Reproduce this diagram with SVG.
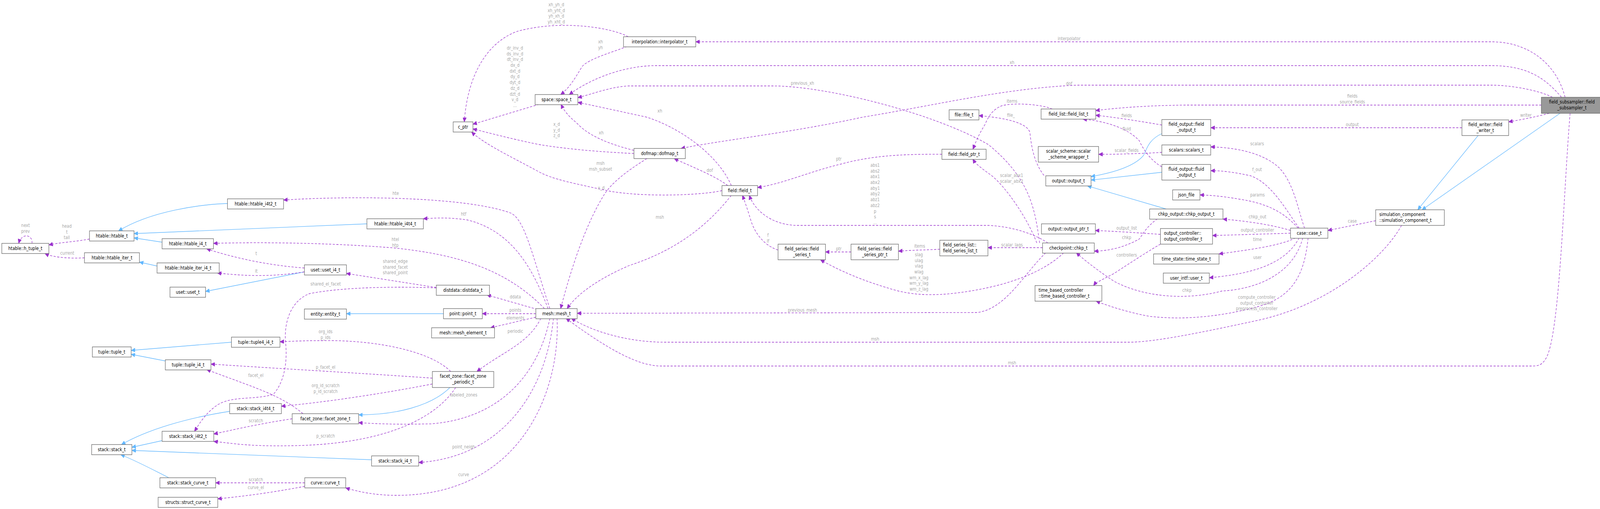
<svg xmlns="http://www.w3.org/2000/svg" width="4464" height="1303" viewBox="0 0 4464 1303">
<style>
.n rect{fill:#fff;stroke:#666;stroke-width:1.3}
.n text{font-family:"DejaVu Sans Condensed","Liberation Sans",sans-serif;font-size:12.5px;fill:#000;text-anchor:middle}
.n text.s{text-anchor:start}
#field_subsampler rect{fill:#999}
.l{font-family:"DejaVu Sans Condensed","Liberation Sans",sans-serif;font-size:12px;fill:#a8a8a8;text-anchor:middle}
.u{fill:none;stroke:#9A32CD;stroke-width:1.3;stroke-dasharray:6,4;marker-end:url(#pa)}
.i{fill:none;stroke:#63B8FF;stroke-width:1.3;marker-end:url(#ba)}
</style>
<defs>
<marker id="pa" markerUnits="userSpaceOnUse" markerWidth="12" markerHeight="10" refX="11" refY="5" orient="auto"><path d="M0,0 L11,5 L0,10 z" fill="#9A32CD" stroke="#9A32CD" stroke-dasharray="none"/></marker>
<marker id="ba" markerUnits="userSpaceOnUse" markerWidth="12" markerHeight="10" refX="11" refY="5" orient="auto"><path d="M0,0 L11,5 L0,10 z" fill="#63B8FF" stroke="#63B8FF"/></marker>
</defs>
<rect width="4464" height="1303" fill="#fff"/>
<g transform="scale(0.92,1)">
<g id="edges">
<path class="i" d="M633,521 C560,523 420,540 330,591"/>
<path class="i" d="M1021,573 L373,598"/>
<path class="i" d="M451,620 L373,609"/>
<path class="i" d="M437,681 L388,671"/>
<path class="i" d="M847,696 L572,746"/>
<path class="i" d="M644,876 L365,897"/>
<path class="i" d="M460,924 L365,907"/>
<path class="i" d="M639,1053 C520,1070 410,1100 338,1138"/>
<path class="i" d="M451,1128 L367,1145"/>
<path class="i" d="M1034,1177 L367,1153"/>
<path class="i" d="M470,1223 C420,1200 380,1180 336,1164"/>
<path class="i" d="M1234,803 L964,803"/>
<path class="i" d="M1252,992 C1200,1040 1100,1062 998,1062"/>
<path class="i" d="M3233,342 C3190,360 3190,390 3180,400 C3150,430 3080,445 3036,452"/>
<path class="i" d="M3233,441 L3036,461"/>
<path class="i" d="M3245,535 L3026,476"/>
<path class="i" d="M4113,347 L3945,537"/>
<path class="i" d="M4341,290 L3957,537"/>

<path class="u" d="M249,612 C200,620 170,620 136,627"/>
<path class="u" d="M89,623 C92,600 60,595 52,623"/>
<path class="u" d="M235,660 C200,662 150,660 125,649"/>
<path class="u" d="M847,686 C750,680 650,660 575,637"/>
<path class="u" d="M847,696 C750,710 680,706 605,699"/>
<path class="u" d="M1530,790 C1480,650 1460,560 1420,545 C1300,505 1000,500 789,512"/>
<path class="u" d="M1525,790 C1480,680 1420,590 1300,563 C1250,556 1210,558 1178,560"/>
<path class="u" d="M1515,790 C1400,680 1250,650 1100,635 C900,620 700,620 594,623"/>
<path class="u" d="M1214,736 L964,700"/>
<path class="u" d="M1214,737 C1100,733 950,735 860,752 C800,775 790,840 795,880 C800,930 790,980 760,1010 C700,1025 640,1012 600,1040 C570,1060 555,1085 541,1104"/>
<path class="u" d="M1495,792 L1355,755"/>
<path class="u" d="M1491,803 L1342,803"/>
<path class="u" d="M1491,812 L1365,839"/>
<path class="u" d="M1505,815 C1470,880 1400,900 1327,951"/>
<path class="u" d="M1254,951 C1200,900 1050,870 900,872 C840,872 800,874 779,875"/>
<path class="u" d="M1203,968 C1000,955 800,945 587,932"/>
<path class="u" d="M1203,983 C1050,1010 900,1030 783,1040"/>
<path class="u" d="M1268,992 C1220,1060 1100,1130 850,1140 C700,1145 650,1135 595,1130"/>
<path class="u" d="M843,1059 C780,1010 700,990 575,946"/>
<path class="u" d="M813,1072 C720,1085 650,1100 595,1111"/>
<path class="u" d="M1530,815 C1500,950 1400,1070 1200,1085 C1100,1087 1050,1085 998,1082"/>
<path class="u" d="M1540,815 C1520,1000 1400,1170 1165,1184"/>
<path class="u" d="M1550,815 C1560,1000 1450,1270 1100,1268 C1050,1268 1000,1260 962,1249"/>
<path class="u" d="M848,1236 L600,1236"/>
<path class="u" d="M848,1245 C750,1262 680,1270 606,1277"/>
<path class="u" d="M1500,267 L1316,318"/>
<path class="u" d="M1748,94 C1700,70 1560,50 1440,80 C1350,110 1300,200 1292,312"/>
<path class="u" d="M1745,119 C1700,135 1640,150 1620,170 C1600,200 1585,225 1560,242"/>
<path class="u" d="M4355,249 C4330,160 4250,107 4150,107 L1936,107"/>
<path class="u" d="M4345,249 C4300,200 4250,168 4150,168 L1820,168 C1720,170 1630,210 1584,242"/>
<path class="u" d="M4320,249 C4280,230 4200,218 4150,218 L3000,218 C2800,225 2600,270 2400,300 C2200,340 2000,360 1895,380"/>
<path class="u" d="M4289,269 L3300,269 C3200,270 3120,275 3049,283"/>
<path class="u" d="M4311,290 C4270,300 4240,305 4198,312"/>
<path class="u" d="M4068,327 L3369,327"/>
<path class="u" d="M3828,565 L3695,590"/>
<path class="u" d="M4369,290 C4350,500 4340,870 4300,920 C4290,935 4280,937 4260,937 L1840,937 C1780,937 1700,900 1575,815"/>
<path class="u" d="M3900,577 C3850,660 3700,780 3500,820 C3300,860 3200,876 3140,876 L1850,876 C1750,876 1650,850 1590,815"/>
<path class="u" d="M2910,647 C2850,700 2800,790 2720,800 L1606,802"/>
<path class="u" d="M2893,622 C2880,540 2870,460 2750,370 C2600,290 2300,220 2150,220 L1750,220 C1700,222 1650,240 1608,250"/>
<path class="u" d="M2885,622 C2860,560 2800,480 2760,450 C2730,430 2715,420 2707,407"/>
<path class="u" d="M2916,622 C2880,600 2820,580 2750,577 L2220,577 C2150,577 2100,540 2085,500"/>
<path class="u" d="M2165,640 C2130,630 2100,600 2088,560 C2078,530 2072,515 2066,500"/>
<path class="u" d="M2368,645 L2297,645"/>
<path class="u" d="M2615,638 C2580,640 2540,640 2500,643"/>
<path class="u" d="M2960,647 C2900,700 2800,730 2700,745 C2620,757 2560,758 2500,745 C2400,720 2330,690 2283,665"/>
<path class="u" d="M2901,634 L2749,634"/>
<path class="u" d="M2621,395 C2500,394 2420,400 2340,420 C2250,440 2180,470 2108,480"/>
<path class="u" d="M2035,475 C2000,400 1900,330 1800,300 C1700,280 1650,270 1608,262"/>
<path class="u" d="M2025,475 C1990,450 1920,425 1876,406"/>
<path class="u" d="M2035,500 C1950,600 1850,650 1750,680 C1650,720 1600,760 1578,790"/>
<path class="u" d="M2009,488 C1950,500 1800,505 1700,490 C1600,470 1540,460 1500,440 C1420,400 1350,370 1312,338"/>
<path class="u" d="M1764,393 C1700,390 1600,385 1500,370 C1420,355 1360,340 1316,330"/>
<path class="u" d="M1764,385 C1700,370 1640,350 1605,315 C1585,300 1570,285 1561,267"/>
<path class="u" d="M1800,406 C1740,440 1700,470 1680,500 C1640,560 1600,650 1560,790"/>
<path class="u" d="M2928,279 C2900,268 2830,262 2790,270 C2760,280 2750,300 2740,320 C2720,350 2715,365 2707,382"/>
<path class="u" d="M2905,449 C2880,420 2870,380 2866,340 C2860,315 2800,302 2724,296"/>
<path class="u" d="M3233,320 C3170,310 3100,300 3049,295"/>
<path class="u" d="M3233,427 C3200,410 3180,380 3170,360 C3140,330 3080,310 3013,305"/>
<path class="u" d="M3233,390 C3180,393 3120,395 3057,395"/>
<path class="u" d="M3221,560 C3190,580 3180,600 3170,612 C3130,632 3090,642 3045,643"/>
<path class="u" d="M3229,600 C3150,595 3100,592 3048,590"/>
<path class="u" d="M3229,625 C3200,640 3150,670 3100,700 C3070,715 3050,722 3043,731"/>
<path class="u" d="M3630,584 C3610,530 3600,470 3560,430 C3520,395 3450,378 3369,376"/>
<path class="u" d="M3615,584 C3580,540 3540,470 3480,450 C3430,440 3400,437 3369,437"/>
<path class="u" d="M3612,584 C3570,540 3520,520 3450,510 C3400,502 3370,500 3339,499"/>
<path class="u" d="M3591,590 C3540,575 3460,565 3403,561"/>
<path class="u" d="M3591,597 L3374,603"/>
<path class="u" d="M3605,609 C3560,630 3470,640 3392,650"/>
<path class="u" d="M3615,609 C3580,670 3500,700 3365,711"/>
<path class="u" d="M3625,609 C3600,700 3500,740 3400,745 C3300,770 3180,760 3100,720 C3050,690 3010,660 2995,647"/>
<path class="u" d="M3640,609 C3630,700 3600,760 3500,785 C3400,810 3300,820 3200,810 C3140,800 3090,785 3050,771"/>
</g>
<g id="labels">
<text class="l" x="71" y="581">next<tspan x="71" dy="14.7">prev</tspan></text>
<text class="l" x="186" y="583">head<tspan x="186" dy="14.7">t</tspan><tspan x="186" dy="14.7">tail</tspan></text>
<text class="l" x="187" y="652">current</text>
<text class="l" x="713" y="653">t</text>
<text class="l" x="713" y="698">it</text>
<text class="l" x="1101" y="499">hte</text>
<text class="l" x="1290" y="552">htf</text>
<text class="l" x="1100" y="617">htel<tspan x="1100" dy="14.7">htp</tspan></text>
<text class="l" x="1100" y="673">shared_edge<tspan x="1100" dy="14.7">shared_facet</tspan><tspan x="1100" dy="14.7">shared_point</tspan></text>
<text class="l" x="906" y="731">shared_el_facet</text>
<text class="l" x="1434" y="764">ddata</text>
<text class="l" x="1434" y="798">points</text>
<text class="l" x="1434" y="818">elements</text>
<text class="l" x="1434" y="852">periodic</text>
<text class="l" x="906" y="853">org_ids<tspan x="906" dy="14.7">p_ids</tspan></text>
<text class="l" x="906" y="944">p_facet_el</text>
<text class="l" x="712" y="965">facet_el</text>
<text class="l" x="906" y="991">org_id_scratch<tspan x="906" dy="14.7">p_id_scratch</tspan></text>
<text class="l" x="1290" y="1015">labeled_zones</text>
<text class="l" x="712" y="1081">scratch</text>
<text class="l" x="906" y="1120">p_scratch</text>
<text class="l" x="1290" y="1148">point_neigh</text>
<text class="l" x="1290" y="1219">curve</text>
<text class="l" x="712" y="1232">scratch</text>
<text class="l" x="712" y="1252">curve_el</text>
<text class="l" x="1548" y="16">xh_yh_d<tspan x="1548" dy="14.7">xh_yht_d</tspan><tspan x="1548" dy="14.7">yh_xh_d</tspan><tspan x="1548" dy="14.7">yh_xht_d</tspan></text>
<text class="l" x="1433" y="127">dr_inv_d<tspan x="1433" dy="14.7">ds_inv_d</tspan><tspan x="1433" dy="14.7">dt_inv_d</tspan><tspan x="1433" dy="14.7">dx_d</tspan><tspan x="1433" dy="14.7">dxt_d</tspan><tspan x="1433" dy="14.7">dy_d</tspan><tspan x="1433" dy="14.7">dyt_d</tspan><tspan x="1433" dy="14.7">dz_d</tspan><tspan x="1433" dy="14.7">dzt_d</tspan><tspan x="1433" dy="14.7">v_d</tspan><tspan x="1433" dy="14.7">...</tspan></text>
<text class="l" x="1671" y="111">xh<tspan x="1671" dy="14.7">yh</tspan></text>
<text class="l" x="1549" y="322">x_d<tspan x="1549" dy="14.7">y_d</tspan><tspan x="1549" dy="14.7">z_d</tspan></text>
<text class="l" x="1673" y="344">xh</text>
<text class="l" x="1671" y="422">msh<tspan x="1671" dy="14.7">msh_subset</tspan></text>
<text class="l" x="1673" y="485">x_d</text>
<text class="l" x="2233" y="217">previous_xh</text>
<text class="l" x="1836" y="288">xh</text>
<text class="l" x="2334" y="411">ptr</text>
<text class="l" x="1975" y="440">dof</text>
<text class="l" x="2435" y="427">abs1<tspan x="2435" dy="14.7">abs2</tspan><tspan x="2435" dy="14.7">abx1</tspan><tspan x="2435" dy="14.7">abx2</tspan><tspan x="2435" dy="14.7">aby1</tspan><tspan x="2435" dy="14.7">aby2</tspan><tspan x="2435" dy="14.7">abz1</tspan><tspan x="2435" dy="14.7">abz2</tspan><tspan x="2435" dy="14.7">p</tspan><tspan x="2435" dy="14.7">s</tspan><tspan x="2435" dy="14.7">...</tspan></text>
<text class="l" x="1836" y="560">msh</text>
<text class="l" x="2137" y="606">f<tspan x="2137" dy="14.7">lf</tspan></text>
<text class="l" x="2334" y="641">ptr</text>
<text class="l" x="2559" y="634">items</text>
<text class="l" x="2557" y="656">slag<tspan x="2557" dy="14.7">ulag</tspan><tspan x="2557" dy="14.7">vlag</tspan><tspan x="2557" dy="14.7">wlag</tspan><tspan x="2557" dy="14.7">wm_x_lag</tspan><tspan x="2557" dy="14.7">wm_y_lag</tspan><tspan x="2557" dy="14.7">wm_z_lag</tspan></text>
<text class="l" x="2233" y="798">previous_mesh</text>
<text class="l" x="2435" y="872">msh</text>
<text class="l" x="2816" y="933">msh</text>
<text class="l" x="2975" y="103">interpolator</text>
<text class="l" x="2816" y="164">xh</text>
<text class="l" x="2975" y="218">dof</text>
<text class="l" x="2816" y="263">items</text>
<text class="l" x="2813" y="299">file_</text>
<text class="l" x="3135" y="300">fields</text>
<text class="l" x="3135" y="334">fluid</text>
<text class="l" x="3135" y="389">scalar_fields</text>
<text class="l" x="3498" y="372">scalars</text>
<text class="l" x="3498" y="438">f_out</text>
<text class="l" x="2815" y="453">scalar_abx1<tspan x="2815" dy="14.7">scalar_abx2</tspan></text>
<text class="l" x="3499" y="503">params</text>
<text class="l" x="3499" y="559">chkp_out</text>
<text class="l" x="3135" y="588">output_list</text>
<text class="l" x="3499" y="593">output_controller</text>
<text class="l" x="3135" y="612">chkp</text>
<text class="l" x="3499" y="617">time</text>
<text class="l" x="2816" y="631">scalar_lags</text>
<text class="l" x="3135" y="657">controllers</text>
<text class="l" x="3499" y="663">user</text>
<text class="l" x="3303" y="747">chkp</text>
<text class="l" x="3497" y="765">compute_controller<tspan x="3497" dy="14.7">output_controller</tspan><tspan x="3497" dy="14.7">preprocess_controller</tspan></text>
<text class="l" x="3763" y="250">fields<tspan x="3763" dy="14.7">source_fields</tspan></text>
<text class="l" x="4246" y="299">writer</text>
<text class="l" x="3763" y="323">output</text>
<text class="l" x="3763" y="570">case</text>
</g>
<g id="h_tuple" class="n"><rect x="5" y="623" width="131" height="26"/><text x="70.5" y="640">htable::h_tuple_t</text></g>
<g id="htable" class="n"><rect x="249" y="591" width="124" height="26"/><text x="311" y="608">htable::htable_t</text></g>
<g id="htable_i4t2" class="n"><rect x="633" y="509" width="156" height="26"/><text x="711" y="526">htable::htable_i4t2_t</text></g>
<g id="htable_i4" class="n"><rect x="451" y="611" width="143" height="26"/><text x="522.5" y="628">htable::htable_i4_t</text></g>
<g id="htable_iter" class="n"><rect x="235" y="647" width="153" height="26"/><text x="311.5" y="664">htable::htable_iter_t</text></g>
<g id="htable_iter_i4" class="n"><rect x="437" y="673" width="173" height="26"/><text x="523.5" y="690">htable::htable_iter_i4_t</text></g>
<g id="uset" class="n"><rect x="473" y="735" width="99" height="26"/><text x="522.5" y="752">uset::uset_t</text></g>
<g id="tuple4_i4" class="n"><rect x="644" y="863" width="135" height="26"/><text x="711.5" y="880">tuple::tuple4_i4_t</text></g>
<g id="tuple" class="n"><rect x="257" y="888" width="108" height="26"/><text x="311" y="905">tuple::tuple_t</text></g>
<g id="tuple_i4" class="n"><rect x="460" y="921" width="127" height="26"/><text x="523.5" y="938">tuple::tuple_i4_t</text></g>
<g id="stack_i4t4" class="n"><rect x="639" y="1033" width="144" height="26"/><text x="711" y="1050">stack::stack_i4t4_t</text></g>
<g id="stack_i4t2" class="n"><rect x="451" y="1104" width="144" height="26"/><text x="523" y="1121">stack::stack_i4t2_t</text></g>
<g id="stack" class="n"><rect x="255" y="1138" width="112" height="26"/><text x="311" y="1155">stack::stack_t</text></g>
<g id="stack_curve" class="n"><rect x="445" y="1223" width="155" height="26"/><text x="522.5" y="1240">stack::stack_curve_t</text></g>
<g id="struct_curve" class="n"><rect x="440" y="1273" width="166" height="26"/><text x="523" y="1290">structs::struct_curve_t</text></g>
<g id="htable_i4t4" class="n"><rect x="1021" y="560" width="157" height="26"/><text x="1099.5" y="577">htable::htable_i4t4_t</text></g>
<g id="uset_i4" class="n"><rect x="847" y="678" width="117" height="26"/><text x="905.5" y="695">uset::uset_i4_t</text></g>
<g id="distdata" class="n"><rect x="1214" y="730" width="148" height="26"/><text x="1288" y="747">distdata::distdata_t</text></g>
<g id="entity" class="n"><rect x="847" y="791" width="117" height="26"/><text x="905.5" y="808">entity::entity_t</text></g>
<g id="point" class="n"><rect x="1234" y="790" width="108" height="26"/><text x="1288" y="807">point::point_t</text></g>
<g id="mesh_element" class="n"><rect x="1201" y="839" width="175" height="26"/><text x="1288.5" y="856">mesh::mesh_element_t</text></g>
<g id="mesh" class="n"><rect x="1491" y="790" width="115" height="26"/><text x="1548.5" y="807">mesh::mesh_t</text></g>
<g id="facet_zone_periodic" class="n"><rect x="1203" y="951" width="171" height="41"/><text x="1288.5" y="967">facet_zone::facet_zone<tspan x="1288.5" dy="15">_periodic_t</tspan></text></g>
<g id="facet_zone" class="n"><rect x="813" y="1059" width="185" height="26"/><text x="905.5" y="1076">facet_zone::facet_zone_t</text></g>
<g id="stack_i4" class="n"><rect x="1034" y="1167" width="131" height="26"/><text x="1099.5" y="1184">stack::stack_i4_t</text></g>
<g id="curve" class="n"><rect x="848" y="1223" width="114" height="26"/><text x="905" y="1240">curve::curve_t</text></g>
<g id="c_ptr" class="n"><rect x="1261" y="312" width="55" height="26"/><text x="1288.5" y="329">c_ptr</text></g>
<g id="space" class="n"><rect x="1489" y="242" width="119" height="26"/><text x="1548.5" y="259">space::space_t</text></g>
<g id="interpolator" class="n"><rect x="1735" y="94" width="201" height="26"/><text x="1835.5" y="111">interpolation::interpolator_t</text></g>
<g id="dofmap" class="n"><rect x="1764" y="380" width="143" height="26"/><text x="1835.5" y="397">dofmap::dofmap_t</text></g>
<g id="field" class="n"><rect x="2009" y="475" width="99" height="26"/><text x="2058.5" y="492">field::field_t</text></g>
<g id="file" class="n"><rect x="2641" y="281" width="83" height="26"/><text x="2682.5" y="298">file::file_t</text></g>
<g id="field_ptr" class="n"><rect x="2621" y="382" width="123" height="26"/><text x="2682.5" y="399">field::field_ptr_t</text></g>
<g id="field_series" class="n"><rect x="2165" y="625" width="132" height="40"/><text x="2231" y="641">field_series::field<tspan x="2231" dy="15">_series_t</tspan></text></g>
<g id="field_series_ptr" class="n"><rect x="2368" y="625" width="132" height="40"/><text x="2434" y="641">field_series::field<tspan x="2434" dy="15">_series_ptr_t</tspan></text></g>
<g id="field_series_list" class="n"><rect x="2615" y="615" width="134" height="40"/><text class="s" x="2624" y="631">field_series_list::<tspan x="2624" dy="15">field_series_list_t</tspan></text></g>
<g id="field_list" class="n"><rect x="2897" y="279" width="152" height="26"/><text x="2973" y="296">field_list::field_list_t</text></g>
<g id="field_output" class="n"><rect x="3233" y="306" width="136" height="41"/><text x="3301" y="322">field_output::field<tspan x="3301" dy="15">_output_t</tspan></text></g>
<g id="scalar_scheme" class="n"><rect x="2889" y="375" width="168" height="40"/><text x="2973" y="391">scalar_scheme::scalar<tspan x="2973" dy="15">_scheme_wrapper_t</tspan></text></g>
<g id="scalars" class="n"><rect x="3233" y="371" width="136" height="26"/><text x="3301" y="388">scalars::scalars_t</text></g>
<g id="fluid_output" class="n"><rect x="3233" y="421" width="136" height="40"/><text x="3301" y="437">fluid_output::fluid<tspan x="3301" dy="15">_output_t</tspan></text></g>
<g id="output" class="n"><rect x="2910" y="450" width="126" height="26"/><text x="2973" y="467">output::output_t</text></g>
<g id="json_file" class="n"><rect x="3263" y="486" width="76" height="26"/><text x="3301" y="503">json_file</text></g>
<g id="chkp_output" class="n"><rect x="3199" y="535" width="204" height="26"/><text x="3301" y="552">chkp_output::chkp_output_t</text></g>
<g id="output_ptr" class="n"><rect x="2898" y="573" width="150" height="26"/><text x="2973" y="590">output::output_ptr_t</text></g>
<g id="output_controller" class="n"><rect x="3229" y="585" width="145" height="40"/><text class="s" x="3239" y="601">output_controller::<tspan x="3239" dy="15">output_controller_t</tspan></text></g>
<g id="chkp" class="n"><rect x="2901" y="622" width="144" height="26"/><text x="2973" y="639">checkpoint::chkp_t</text></g>
<g id="time_state" class="n"><rect x="3210" y="650" width="182" height="26"/><text x="3301" y="667">time_state::time_state_t</text></g>
<g id="user" class="n"><rect x="3237" y="699" width="128" height="26"/><text x="3301" y="716">user_intf::user_t</text></g>
<g id="time_based_controller" class="n"><rect x="2880" y="731" width="186" height="40"/><text class="s" x="2890" y="747">time_based_controller<tspan x="2890" dy="15">::time_based_controller_t</tspan></text></g>
<g id="case" class="n"><rect x="3591" y="584" width="104" height="26"/><text x="3643" y="601">case::case_t</text></g>
<g id="simulation_component" class="n"><rect x="3828" y="537" width="191" height="40"/><text class="s" x="3838" y="553">simulation_component<tspan x="3838" dy="15">::simulation_component_t</tspan></text></g>
<g id="field_writer" class="n"><rect x="4068" y="307" width="130" height="40"/><text x="4133" y="323">field_writer::field<tspan x="4133" dy="15">_writer_t</tspan></text></g>
<g id="field_subsampler" class="n"><rect x="4289" y="249" width="170" height="41"/><text x="4374" y="265">field_subsampler::field<tspan x="4374" dy="15">_subsampler_t</tspan></text></g>
</g>
</svg>
